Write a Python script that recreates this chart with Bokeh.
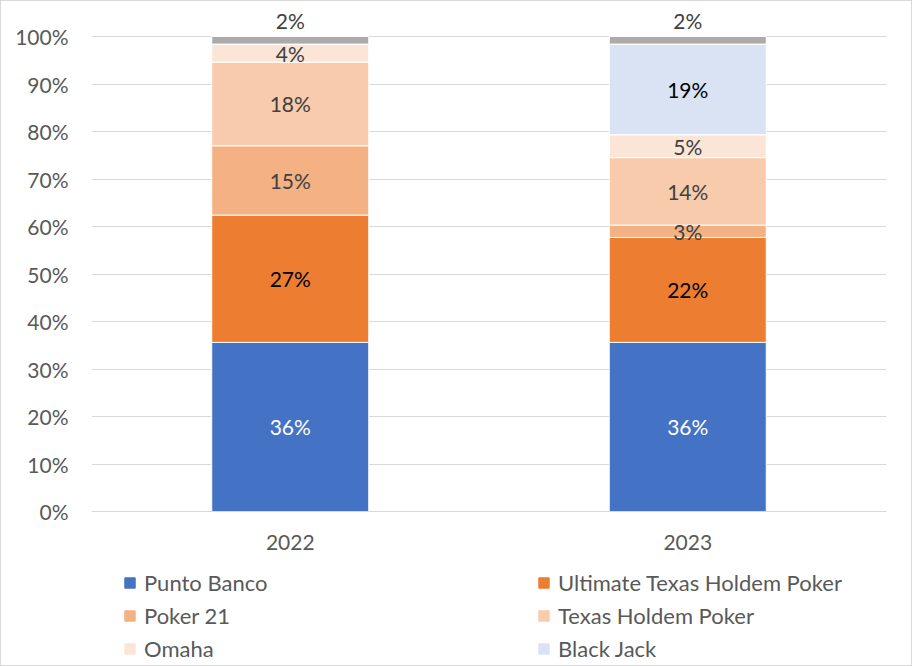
import numpy as np
from bokeh.plotting import figure
from bokeh.layouts import column
from bokeh.models import (ColumnDataSource, Range1d, FixedTicker, PrintfTickFormatter,
                          Legend, LegendItem)
from bokeh.core.properties import value
from bokeh.embed import file_html
from bokeh.resources import INLINE

years = ["2022", "2023"]
series = ["Punto Banco", "Ultimate Texas Holdem Poker", "Poker 21",
          "Texas Holdem Poker", "Omaha", "Black Jack", "Other"]
punto_banco = [35.6, 35.6]
ultimate_texas_holdem = [26.8, 22.1]
poker_21 = [14.6, 2.6]
texas_holdem = [17.6, 14.2]
omaha = [3.8, 4.8]
black_jack = [0.0, 19.1]
other = [1.6, 1.6]
colors = ["#4472C4", "#ED7D31", "#F4B183", "#F8CBAD", "#FBE5D6", "#DAE3F3", "#AEAAAA"]
label_colors = ["#FFFFFF", "#000000", "#404040", "#404040", "#404040", "#000000", "#404040"]
y_ticks = list(range(0, 101, 10))

FONT = value("Lato")
TEXT = "#595959"
FS = "21px"

values = [punto_banco, ultimate_texas_holdem, poker_21, texas_holdem, omaha, black_jack, other]
data = {"year": years}
for name, vals in zip(series, values):
    data[name] = vals
src = ColumnDataSource(data)

FRAME_H = 502
PX_PER_PCT = 4.75
p = figure(x_range=years, y_range=Range1d(0, FRAME_H / PX_PER_PCT),
           frame_width=795, frame_height=FRAME_H,
           min_border_left=90, min_border_right=25, min_border_top=8, min_border_bottom=50,
           output_backend="svg", toolbar_location=None)
p.background_fill_color = "white"
p.border_fill_color = "white"
p.outline_line_color = None
p.x_range.range_padding = 0

renderers = p.vbar_stack(series, x="year", width=0.395, color=colors, source=src,
                         line_color="white", line_width=1)

arr = np.array(values)
tops = np.cumsum(arr, axis=0)
bottoms = tops - arr
lx, ly, lt, lc = [], [], [], []
for i in range(len(series) - 1):
    for j, yr in enumerate(years):
        v = arr[i, j]
        if v <= 0:
            continue
        lx.append(yr)
        ly.append((bottoms[i, j] + tops[i, j]) / 2)
        lt.append(f"{round(v):d}%")
        lc.append(label_colors[i])
lab_src = ColumnDataSource(dict(x=lx, y=ly, t=lt, c=lc))
p.text(x="x", y="y", text="t", text_color="c", source=lab_src, text_align="center",
       text_baseline="middle", text_font=FONT, text_font_size=FS)

ox, oy, ot = [], [], []
for j, yr in enumerate(years):
    ox.append(yr)
    oy.append(tops[-1, j])
    ot.append(f"{round(arr[-1, j]):d}%")
oth_src = ColumnDataSource(dict(x=ox, y=oy, t=ot))
p.text(x="x", y="y", text="t", source=oth_src, text_color="#404040", text_align="center",
       text_baseline="middle", y_offset=-16, text_font=FONT, text_font_size=FS)

p.yaxis.ticker = FixedTicker(ticks=y_ticks)
p.yaxis.formatter = PrintfTickFormatter(format="%d%%")
p.yaxis.axis_line_color = None
p.yaxis.major_tick_line_color = None
p.yaxis.minor_tick_line_color = None
p.yaxis.major_label_text_font = "Lato"
p.yaxis.major_label_text_font_size = FS
p.yaxis.major_label_text_color = TEXT
p.yaxis.major_label_standoff = 17

p.xaxis.axis_line_color = "#D9D9D9"
p.xaxis.major_tick_line_color = None
p.xaxis.minor_tick_line_color = None
p.xaxis.major_label_text_font = "Lato"
p.xaxis.major_label_text_font_size = FS
p.xaxis.major_label_text_color = TEXT
p.xaxis.major_label_standoff = 17

p.xgrid.grid_line_color = None
p.ygrid.ticker = FixedTicker(ticks=y_ticks)
p.ygrid.grid_line_color = "#D9D9D9"
p.ygrid.grid_line_width = 1

# legend strip: a small figure whose bars lie outside its view and only lend their swatches
lg = figure(width=910, height=104, x_range=p.x_range, y_range=Range1d(1000, 1001),
            x_axis_type=None, y_axis_type=None, min_border=0,
            output_backend="svg", toolbar_location=None)
lg.outline_line_color = None
lg.xgrid.visible = False
lg.ygrid.visible = False
lg.background_fill_color = "white"
lg.border_fill_color = "white"
lrs = [lg.vbar(x="year", top=series[i], width=0.395, color=colors[i], source=src)
       for i in range(6)]
items = [LegendItem(label=series[i], renderers=[lrs[i]]) for i in range(6)]
legend = Legend(items=items, location=(32, 0.5), orientation="horizontal", ncols=2,
                glyph_width=13, glyph_height=13, label_standoff=8, label_width=393,
                label_height=33, spacing=0, padding=0, margin=0,
                border_line_color=None, background_fill_alpha=0,
                label_text_font="Lato", label_text_font_size="22px",
                label_text_color=TEXT)
lg.add_layout(legend, "center")

layout = column(p, lg, spacing=0)
layout.styles = {"border": "1px solid #D9D9D9"}
open("out.html", "w").write(file_html(layout, INLINE))
